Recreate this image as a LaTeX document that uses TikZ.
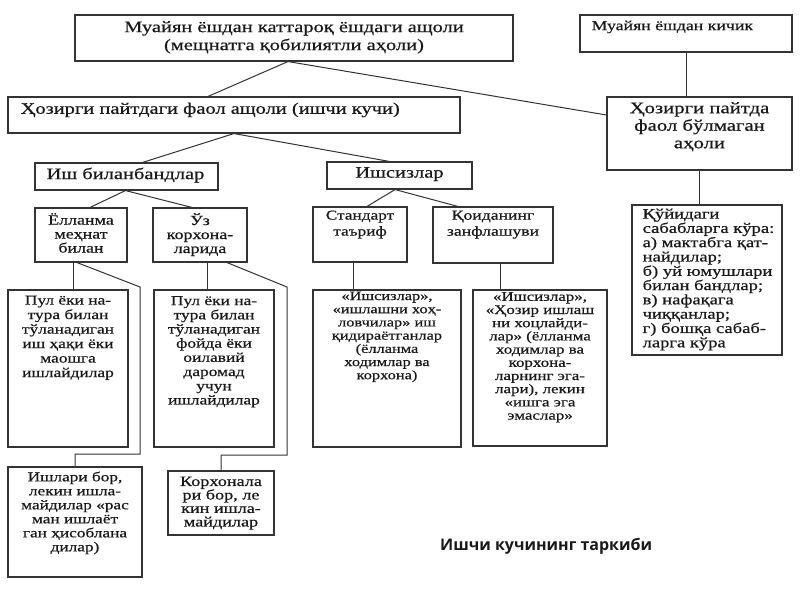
\documentclass[tikz,border=0pt]{standalone}
\usepackage{fontspec}
\setmainfont{Liberation Serif}[FakeStretch=1.28,FakeBold=0.6]
\newfontfamily\titlefont{Open Sans}
\newcommand\fsz[2]{\fontsize{#1}{#2}\selectfont}
\begin{document}
\begin{tikzpicture}[x=1pt,y=-1pt,
  bx/.style={draw=black!80, line width=1.1pt, inner sep=0pt, fill=white},
  tx/.style={inner sep=0pt, text=black!90},
  conn/.style={draw=black!80, line width=1pt}]
\useasboundingbox (0,0) rectangle (800,600);
% boxes
\node[bx, minimum width=438pt, minimum height=46pt] (top) at (294,38) {};
\node[bx, minimum width=212pt, minimum height=37pt] (kichik) at (686,33.5) {};
\node[bx, minimum width=452pt, minimum height=36pt] (faol) at (234,115) {};
\node[bx, minimum width=185pt, minimum height=73pt] (nofaol) at (699.5,133.5) {};
\node[bx, minimum width=183pt, minimum height=27pt] (band) at (126.5,176.5) {};
\node[bx, minimum width=145pt, minimum height=27pt] (ishsiz) at (399.5,175.5) {};
\node[bx, minimum width=92pt, minimum height=54pt] (yol) at (81,235) {};
\node[bx, minimum width=94pt, minimum height=54pt] (uz) at (200,235) {};
\node[bx, minimum width=94pt, minimum height=55pt] (stand) at (360,234.5) {};
\node[bx, minimum width=120pt, minimum height=56pt] (qoida) at (493,235) {};
\node[bx, minimum width=150pt, minimum height=150pt] (kuyi) at (707,280) {};
\node[bx, minimum width=120pt, minimum height=157pt] (leaf1) at (68,368.5) {};
\node[bx, minimum width=120pt, minimum height=157pt] (leaf2) at (214,368.5) {};
\node[bx, minimum width=148pt, minimum height=157pt] (leaf3) at (387,368.5) {};
\node[bx, minimum width=134pt, minimum height=156pt] (leaf4) at (540,368) {};
\node[bx, minimum width=134pt, minimum height=110pt] (ishlari) at (75,522) {};
\node[bx, minimum width=106pt, minimum height=64pt] (korx) at (221,503) {};
% texts
\node[tx, font=\fsz{16}{18}, align=center, anchor=north] (t-top) at ([yshift=-6.5pt]top.north)
  {Муайян ёшдан каттароқ ёшдаги ащоли\\(мещнатга қобилиятли аҳоли)};
\node[tx, font=\fsz{13.9}{16}, align=left, anchor=north west] (t-kichik) at ([xshift=12pt,yshift=-6pt]kichik.north west)
  {Муайян ёшдан кичик};
\node[tx, font=\fsz{16}{17}, align=left, anchor=north west] (t-faol) at ([xshift=13pt,yshift=-6pt]faol.north west)
  {Ҳозирги пайтдаги фаол ащоли (ишчи кучи)};
\node[tx, font=\fsz{16.2}{17.5}, align=center, anchor=north] (t-nofaol) at ([yshift=-5.5pt]nofaol.north)
  {Ҳозирги пайтда\\фаол бўлмаган\\аҳоли};
\node[tx, font=\fsz{16}{18}, align=left, anchor=north west] (t-band) at ([xshift=12pt,yshift=-5pt]band.north west)
  {Иш биланбандлар};
\node[tx, font=\fsz{16}{18}, align=center, anchor=north] (t-ishsiz) at ([yshift=-5.5pt]ishsiz.north)
  {Ишсизлар};
\node[tx, font=\fsz{14}{14}, align=center, anchor=north] (t-yol) at ([yshift=-5.5pt]yol.north)
  {Ёлланма\\меҳнат\\билан};
\node[tx, font=\fsz{14}{14}, align=center, anchor=north] (t-uz) at ([yshift=-5.5pt]uz.north)
  {Ўз\\корхона-\\ларида};
\node[tx, font=\fsz{13.5}{16}, align=center, anchor=north] (t-stand) at ([yshift=-4pt]stand.north)
  {Стандарт\\таъриф};
\node[tx, font=\fsz{13.8}{16}, align=center, anchor=north] (t-qoida) at ([yshift=-4pt]qoida.north)
  {Қоиданинг\\занфлашуви};
\node[tx, font=\fsz{14.5}{14.3}, align=left, anchor=north west] (t-kuyi) at ([xshift=11pt,yshift=-4pt]kuyi.north west)
  {Қўйидаги\\сабабларга кўра:\\а) мактабга қат-\\найдилар;\\б) уй юмушлари\\билан бандлар;\\в) нафақага\\чиққанлар;\\г) бошқа сабаб-\\ларга кўра};
\node[tx, font=\fsz{13.6}{14.5}, align=center, anchor=north] (t-leaf1) at ([yshift=-6pt]leaf1.north)
  {Пул ёки на-\\тура билан\\тўланадиган\\иш ҳақи ёки\\маошга\\ишлайдилар};
\node[tx, font=\fsz{13.6}{14.2}, align=center, anchor=north] (t-leaf2) at ([yshift=-6.5pt]leaf2.north)
  {Пул ёки на-\\тура билан\\тўланадиган\\фойда ёки\\оилавий\\даромад\\учун\\ишлайдилар};
\node[tx, font=\fsz{12.8}{13.2}, align=center, anchor=north] (t-leaf3) at ([yshift=-2pt]leaf3.north)
  {«Ишсизлар»,\\«ишлашни хоҳ-\\ловчилар» иш\\қидираётганлар\\(ёлланма\\ходимлар ва\\корхона)};
\node[tx, font=\fsz{13.2}{13.2}, align=center, anchor=north] (t-leaf4) at ([yshift=-2.5pt]leaf4.north)
  {«Ишсизлар»,\\«Ҳозир ишлаш\\ни хоцлайди-\\лар» (ёлланма\\ходимлар ва\\корхона-\\ларнинг эга-\\лари), лекин\\«ишга эга\\эмаслар»};
\node[tx, font=\fsz{13.5}{14}, align=center, anchor=north] (t-ishlari) at ([yshift=-5pt]ishlari.north)
  {Ишлари бор,\\лекин ишла-\\майдилар «рас\\ман ишлаёт\\ган ҳисоблана\\дилар)};
\node[tx, font=\fsz{14.2}{13.5}, align=center, anchor=north] (t-korx) at ([yshift=-6pt]korx.north)
  {Корхонала\\ри бор, ле\\кин ишла-\\майдилар};
\node[tx, font=\titlefont\bfseries\fsz{16}{19}, anchor=west] (title) at (440,546)
  {Ишчи кучининг таркиби};
% connectors
\coordinate (b1) at (140,287);
\coordinate (b2) at (140,454);
\coordinate (b3) at (287,287);
\coordinate (b4) at (287,455);
\draw[conn] ([xshift=-6pt]top.south) -- ([xshift=-26pt]faol.north);
\draw[conn] ([xshift=-6pt]top.south) -- ([yshift=18.5pt]nofaol.west);
\draw[conn] (kichik.south) -- (kichik.south |- nofaol.north);
\draw[conn] (faol.south) -- ([xshift=16pt]band.north);
\draw[conn] (faol.south) -- ([xshift=-10pt]ishsiz.north);
\draw[conn] ([xshift=-1pt]band.south) -- ([xshift=9pt]yol.north);
\draw[conn] ([xshift=-1pt]band.south) -- ([xshift=-8pt]uz.north);
\draw[conn] ([xshift=-8pt]yol.south) -- ([xshift=-8pt]yol.south |- leaf1.north);
\draw[conn] ([xshift=-4pt]yol.south) -- (b1) -- (b2) -| (ishlari.north);
\draw[conn] ([xshift=7pt]uz.south) -- ([xshift=7pt]uz.south |- leaf2.north);
\draw[conn] ([xshift=27pt]uz.south) -- (b3) -- (b4) -| (korx.north);
\draw[conn] ([xshift=-4.5pt]ishsiz.south) -- ([xshift=7pt]stand.north);
\draw[conn] ([xshift=-4.5pt]ishsiz.south) -- ([xshift=-35pt]qoida.north);
\draw[conn] ([xshift=-7pt]stand.south) -- ([xshift=-7pt]stand.south |- leaf3.north);
\draw[conn] ([xshift=7pt]qoida.south) -- ([xshift=7pt]qoida.south |- leaf4.north);
\draw[conn] (nofaol.south) -- (nofaol.south |- kuyi.north);
\end{tikzpicture}
\end{document}
